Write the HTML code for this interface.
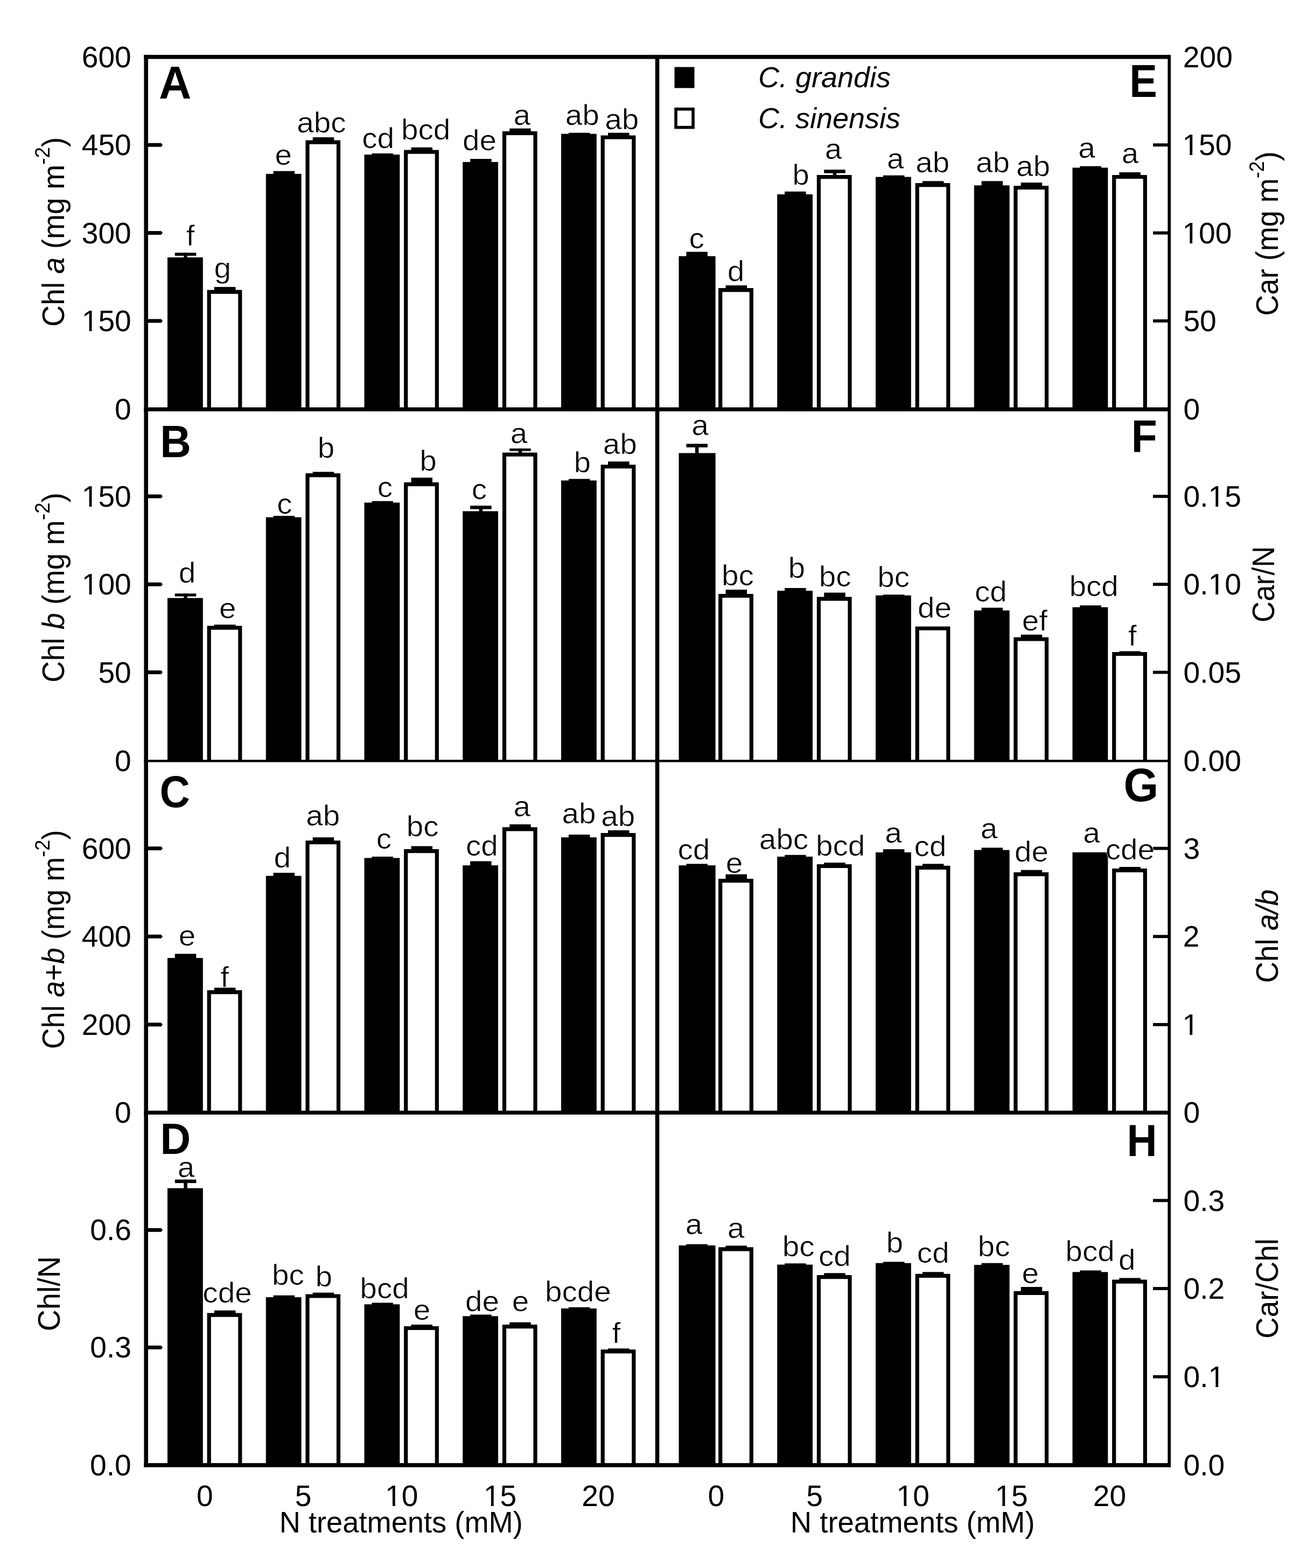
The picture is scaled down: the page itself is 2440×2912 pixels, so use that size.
<!DOCTYPE html>
<html lang="en"><head><meta charset="utf-8"><title>Pigments under N treatments</title>
<style>html,body{margin:0;padding:0;background:#fff}body{width:2440px;height:2912px;overflow:hidden}svg{display:block}text{font-family:'Liberation Sans', Arial, Helvetica, sans-serif;fill:#000}.b{font-weight:bold}.i{font-style:italic}.s text{stroke:#fff;stroke-width:0.6px;stroke-linejoin:round}</style></head><body>
<svg width="2440" height="2912" viewBox="0 0 2440 2912" role="img" aria-label="Leaf pigment concentrations and ratios under five N treatments">
<rect x="0" y="0" width="2440" height="2912" fill="#fff"/>
<g id="bars-A">
<rect x="341.3" y="469.4" width="6.5" height="9.6"/>
<rect x="324.8" y="469.4" width="39.5" height="5.6"/>
<rect x="311" y="478" width="65.8" height="282.2"/>
<rect x="397.9" y="532.9" width="39.5" height="6.7"/>
<path d="M388.2 760.2V542.2H445.8V760.2" fill="#fff" stroke="#000" stroke-width="7.2"/>
<rect x="507.6" y="317.7" width="39.5" height="6.2"/>
<rect x="493.8" y="322.9" width="65.8" height="437.4"/>
<rect x="580.7" y="254.9" width="39.5" height="6.7"/>
<path d="M571 760.2V264.2H628.5V760.2" fill="#fff" stroke="#000" stroke-width="7.2"/>
<rect x="690.4" y="284.9" width="39.5" height="3.2"/>
<rect x="676.5" y="287.1" width="65.8" height="473.1"/>
<rect x="763.5" y="273.7" width="39.5" height="5.9"/>
<path d="M753.7 760.2V282.2H811.3V760.2" fill="#fff" stroke="#000" stroke-width="7.2"/>
<rect x="873.1" y="295.1" width="39.5" height="6.8"/>
<rect x="859.2" y="300.9" width="65.8" height="459.4"/>
<rect x="946.2" y="238.6" width="39.5" height="6.1"/>
<path d="M936.5 760.2V247.3H994V760.2" fill="#fff" stroke="#000" stroke-width="7.2"/>
<rect x="1055.9" y="246.6" width="39.5" height="3"/>
<rect x="1042" y="248.6" width="65.8" height="511.6"/>
<rect x="1129" y="246.6" width="39.5" height="5.8"/>
<path d="M1119.2 760.2V255H1176.8V760.2" fill="#fff" stroke="#000" stroke-width="7.2"/>
</g>
<g id="bars-B">
<rect x="341.3" y="1102.3" width="6.5" height="9.3"/>
<rect x="324.8" y="1102.3" width="39.5" height="5.3"/>
<rect x="311" y="1110.6" width="65.8" height="302.7"/>
<rect x="397.9" y="1160" width="39.5" height="3.3"/>
<path d="M388.2 1413.2V1165.9H445.8V1413.2" fill="#fff" stroke="#000" stroke-width="7.2"/>
<rect x="507.6" y="958" width="39.5" height="3.6"/>
<rect x="493.8" y="960.6" width="65.8" height="452.6"/>
<rect x="580.7" y="876.3" width="39.5" height="3.8"/>
<path d="M571 1413.2V882.7H628.5V1413.2" fill="#fff" stroke="#000" stroke-width="7.2"/>
<rect x="690.4" y="930.6" width="39.5" height="3.8"/>
<rect x="676.5" y="933.4" width="65.8" height="479.9"/>
<rect x="763.5" y="887.1" width="39.5" height="9.6"/>
<path d="M753.7 1413.2V899.3H811.3V1413.2" fill="#fff" stroke="#000" stroke-width="7.2"/>
<rect x="889.6" y="939.1" width="6.5" height="11.3"/>
<rect x="873.1" y="939.1" width="39.5" height="6.5"/>
<rect x="859.2" y="949.4" width="65.8" height="463.9"/>
<rect x="962.7" y="832.9" width="6.5" height="8.7"/>
<rect x="946.2" y="832.9" width="39.5" height="4.7"/>
<path d="M936.5 1413.2V844.2H994V1413.2" fill="#fff" stroke="#000" stroke-width="7.2"/>
<rect x="1055.9" y="889.4" width="39.5" height="3.9"/>
<rect x="1042" y="892.3" width="65.8" height="521"/>
<rect x="1129" y="857.1" width="39.5" height="6.8"/>
<path d="M1119.2 1413.2V866.5H1176.8V1413.2" fill="#fff" stroke="#000" stroke-width="7.2"/>
</g>
<g id="bars-C">
<rect x="324.8" y="1771.4" width="39.5" height="8.7"/>
<rect x="311" y="1779.1" width="65.8" height="287.2"/>
<rect x="397.9" y="1834.3" width="39.5" height="5.8"/>
<path d="M388.2 2066.2V1842.7H445.8V2066.2" fill="#fff" stroke="#000" stroke-width="7.2"/>
<rect x="507.6" y="1620.9" width="39.5" height="6.7"/>
<rect x="493.8" y="1626.6" width="65.8" height="439.7"/>
<rect x="580.7" y="1555.1" width="39.5" height="6.8"/>
<path d="M571 2066.2V1564.5H628.5V2066.2" fill="#fff" stroke="#000" stroke-width="7.2"/>
<rect x="690.4" y="1590.9" width="39.5" height="3.5"/>
<rect x="676.5" y="1593.4" width="65.8" height="472.8"/>
<rect x="763.5" y="1571.4" width="39.5" height="6.7"/>
<path d="M753.7 2066.2V1580.7H811.3V2066.2" fill="#fff" stroke="#000" stroke-width="7.2"/>
<rect x="873.1" y="1599.4" width="39.5" height="8.7"/>
<rect x="859.2" y="1607.1" width="65.8" height="459.2"/>
<rect x="946.2" y="1530.9" width="39.5" height="6.4"/>
<path d="M936.5 2066.2V1539.9H994V2066.2" fill="#fff" stroke="#000" stroke-width="7.2"/>
<rect x="1055.9" y="1550" width="39.5" height="6.1"/>
<rect x="1042" y="1555.1" width="65.8" height="511.2"/>
<rect x="1129" y="1542" width="39.5" height="6.1"/>
<path d="M1119.2 2066.2V1550.7H1176.8V2066.2" fill="#fff" stroke="#000" stroke-width="7.2"/>
</g>
<g id="bars-D">
<rect x="341.3" y="2190.6" width="6.5" height="17"/>
<rect x="324.8" y="2190.6" width="39.5" height="6.5"/>
<rect x="311" y="2206.6" width="65.8" height="514.4"/>
<rect x="397.9" y="2433.7" width="39.5" height="5.9"/>
<path d="M388.2 2721V2442.2H445.8V2721" fill="#fff" stroke="#000" stroke-width="7.2"/>
<rect x="507.6" y="2405.7" width="39.5" height="4.4"/>
<rect x="493.8" y="2409.1" width="65.8" height="311.9"/>
<rect x="580.7" y="2400.6" width="39.5" height="3.8"/>
<path d="M571 2721V2407H628.5V2721" fill="#fff" stroke="#000" stroke-width="7.2"/>
<rect x="690.4" y="2419.4" width="39.5" height="3.9"/>
<rect x="676.5" y="2422.3" width="65.8" height="298.7"/>
<rect x="763.5" y="2460" width="39.5" height="3.9"/>
<path d="M753.7 2721V2466.5H811.3V2721" fill="#fff" stroke="#000" stroke-width="7.2"/>
<rect x="873.1" y="2441.4" width="39.5" height="3.9"/>
<rect x="859.2" y="2444.3" width="65.8" height="276.7"/>
<rect x="946.2" y="2455.7" width="39.5" height="5.3"/>
<path d="M936.5 2721V2463.6H994V2721" fill="#fff" stroke="#000" stroke-width="7.2"/>
<rect x="1055.9" y="2427.7" width="39.5" height="3.3"/>
<rect x="1042" y="2430" width="65.8" height="291"/>
<rect x="1129" y="2504.3" width="39.5" height="3"/>
<path d="M1119.2 2721V2509.9H1176.8V2721" fill="#fff" stroke="#000" stroke-width="7.2"/>
</g>
<g id="bars-E">
<rect x="1274.4" y="467.7" width="39.5" height="9"/>
<rect x="1260.5" y="475.7" width="68.1" height="284.6"/>
<rect x="1347.5" y="530" width="39.5" height="6.1"/>
<path d="M1337.7 760.2V538.7H1395.3V760.2" fill="#fff" stroke="#000" stroke-width="7.2"/>
<rect x="1457.1" y="355.7" width="39.5" height="6.2"/>
<rect x="1443.2" y="360.9" width="65.8" height="399.4"/>
<rect x="1546.7" y="315.1" width="6.5" height="11"/>
<rect x="1530.2" y="315.1" width="39.5" height="6.5"/>
<path d="M1520.4 760.2V328.7H1578V760.2" fill="#fff" stroke="#000" stroke-width="7.2"/>
<rect x="1639.9" y="325.7" width="39.5" height="3.9"/>
<rect x="1626" y="328.6" width="65.8" height="431.6"/>
<rect x="1713" y="336.3" width="39.5" height="4.7"/>
<path d="M1703.2 760.2V343.6H1760.8V760.2" fill="#fff" stroke="#000" stroke-width="7.2"/>
<rect x="1822.6" y="336.3" width="39.5" height="9"/>
<rect x="1808.8" y="344.3" width="65.8" height="415.9"/>
<rect x="1895.7" y="339.1" width="39.5" height="6.8"/>
<path d="M1885.9 760.2V348.5H1943.5V760.2" fill="#fff" stroke="#000" stroke-width="7.2"/>
<rect x="2005.4" y="308.6" width="39.5" height="3.8"/>
<rect x="1991.5" y="311.4" width="65.8" height="448.9"/>
<rect x="2078.4" y="320" width="39.5" height="5.9"/>
<path d="M2068.7 760.2V328.5H2126.3V760.2" fill="#fff" stroke="#000" stroke-width="7.2"/>
</g>
<g id="bars-F">
<rect x="1290.9" y="824.3" width="6.5" height="18.1"/>
<rect x="1274.4" y="824.3" width="39.5" height="6.5"/>
<rect x="1260.5" y="841.4" width="68.1" height="571.9"/>
<rect x="1347.5" y="1095.1" width="39.5" height="8.8"/>
<path d="M1337.7 1413.2V1106.5H1395.3V1413.2" fill="#fff" stroke="#000" stroke-width="7.2"/>
<rect x="1457.1" y="1092" width="39.5" height="6.1"/>
<rect x="1443.2" y="1097.1" width="65.8" height="316.2"/>
<rect x="1530.2" y="1100.6" width="39.5" height="9"/>
<path d="M1520.4 1413.2V1112.2H1578V1413.2" fill="#fff" stroke="#000" stroke-width="7.2"/>
<rect x="1639.9" y="1104.3" width="39.5" height="2.4"/>
<rect x="1626" y="1105.7" width="65.8" height="307.5"/>
<path d="M1703.2 1413.2V1167H1760.8V1413.2" fill="#fff" stroke="#000" stroke-width="7.2"/>
<rect x="1822.6" y="1128.6" width="39.5" height="6.1"/>
<rect x="1808.8" y="1133.7" width="65.8" height="279.5"/>
<rect x="1895.7" y="1178.6" width="39.5" height="5.8"/>
<path d="M1885.9 1413.2V1187H1943.5V1413.2" fill="#fff" stroke="#000" stroke-width="7.2"/>
<rect x="2005.4" y="1124.3" width="39.5" height="4.4"/>
<rect x="1991.5" y="1127.7" width="65.8" height="285.5"/>
<rect x="2078.4" y="1209.4" width="39.5" height="2.5"/>
<path d="M2068.7 1413.2V1214.5H2126.3V1413.2" fill="#fff" stroke="#000" stroke-width="7.2"/>
</g>
<g id="bars-G">
<rect x="1274.4" y="1604.3" width="39.5" height="3.8"/>
<rect x="1260.5" y="1607.1" width="68.1" height="459.2"/>
<rect x="1347.5" y="1623.7" width="39.5" height="9.3"/>
<path d="M1337.7 2066.2V1635.6H1395.3V2066.2" fill="#fff" stroke="#000" stroke-width="7.2"/>
<rect x="1457.1" y="1587.7" width="39.5" height="4.2"/>
<rect x="1443.2" y="1590.9" width="65.8" height="475.3"/>
<rect x="1530.2" y="1602" width="39.5" height="3.9"/>
<path d="M1520.4 2066.2V1608.5H1578V2066.2" fill="#fff" stroke="#000" stroke-width="7.2"/>
<rect x="1639.9" y="1577.1" width="39.5" height="6.8"/>
<rect x="1626" y="1582.9" width="65.8" height="483.3"/>
<rect x="1713" y="1604.3" width="39.5" height="4.4"/>
<path d="M1703.2 2066.2V1611.3H1760.8V2066.2" fill="#fff" stroke="#000" stroke-width="7.2"/>
<rect x="1822.6" y="1574.3" width="39.5" height="5.3"/>
<rect x="1808.8" y="1578.6" width="65.8" height="487.7"/>
<rect x="1895.7" y="1615.7" width="39.5" height="5.3"/>
<path d="M1885.9 2066.2V1623.6H1943.5V2066.2" fill="#fff" stroke="#000" stroke-width="7.2"/>
<rect x="1991.5" y="1582.9" width="65.8" height="483.3"/>
<rect x="2078.4" y="1610" width="39.5" height="3.9"/>
<path d="M2068.7 2066.2V1616.5H2126.3V2066.2" fill="#fff" stroke="#000" stroke-width="7.2"/>
</g>
<g id="bars-H">
<rect x="1274.4" y="2310.6" width="39.5" height="3.3"/>
<rect x="1260.5" y="2312.9" width="68.1" height="408.1"/>
<rect x="1347.5" y="2313.4" width="39.5" height="3.9"/>
<path d="M1337.7 2721V2319.9H1395.3V2721" fill="#fff" stroke="#000" stroke-width="7.2"/>
<rect x="1457.1" y="2346.3" width="39.5" height="3.3"/>
<rect x="1443.2" y="2348.6" width="65.8" height="372.4"/>
<rect x="1530.2" y="2364.3" width="39.5" height="4.7"/>
<path d="M1520.4 2721V2371.6H1578V2721" fill="#fff" stroke="#000" stroke-width="7.2"/>
<rect x="1639.9" y="2343.4" width="39.5" height="3.3"/>
<rect x="1626" y="2345.7" width="65.8" height="375.3"/>
<rect x="1713" y="2362.3" width="39.5" height="4.4"/>
<path d="M1703.2 2721V2369.3H1760.8V2721" fill="#fff" stroke="#000" stroke-width="7.2"/>
<rect x="1822.6" y="2345.7" width="39.5" height="4.4"/>
<rect x="1808.8" y="2349.1" width="65.8" height="371.9"/>
<rect x="1895.7" y="2390" width="39.5" height="8.7"/>
<path d="M1885.9 2721V2401.3H1943.5V2721" fill="#fff" stroke="#000" stroke-width="7.2"/>
<rect x="2005.4" y="2359.4" width="39.5" height="3.9"/>
<rect x="1991.5" y="2362.3" width="65.8" height="358.7"/>
<rect x="2078.4" y="2373.4" width="39.5" height="4.2"/>
<path d="M2068.7 2721V2380.2H2126.3V2721" fill="#fff" stroke="#000" stroke-width="7.2"/>
</g>
<g id="frame">
<rect x="267.4" y="101.9" width="1906.6" height="7.6"/>
<rect x="267.4" y="756.5" width="1906.6" height="7.4"/>
<rect x="267.4" y="1411" width="1906.6" height="4.4"/>
<rect x="267.4" y="2062.7" width="1906.6" height="7.2"/>
<rect x="267.4" y="2717.2" width="1906.6" height="7.6"/>
<rect x="267.4" y="101.9" width="7.6" height="2622.9"/>
<rect x="1216.7" y="101.9" width="7.6" height="2622.9"/>
<rect x="2168.4" y="101.9" width="5.6" height="2622.9"/>
</g>
<g id="ticks">
<rect x="271.2" y="592.5" width="28.4" height="7"/>
<path d="M299.4 592.5 l2.6 3.5 l-2.6 3.5z"/>
<rect x="271.2" y="429.1" width="28.4" height="7"/>
<path d="M299.4 429.1 l2.6 3.5 l-2.6 3.5z"/>
<rect x="271.2" y="265.7" width="28.4" height="7"/>
<path d="M299.4 265.7 l2.6 3.5 l-2.6 3.5z"/>
<rect x="271.2" y="1245.1" width="28.4" height="7"/>
<path d="M299.4 1245.1 l2.6 3.5 l-2.6 3.5z"/>
<rect x="271.2" y="1081.7" width="28.4" height="7"/>
<path d="M299.4 1081.7 l2.6 3.5 l-2.6 3.5z"/>
<rect x="271.2" y="918.3" width="28.4" height="7"/>
<path d="M299.4 918.3 l2.6 3.5 l-2.6 3.5z"/>
<rect x="271.2" y="1899.3" width="28.4" height="7"/>
<path d="M299.4 1899.3 l2.6 3.5 l-2.6 3.5z"/>
<rect x="271.2" y="1735.7" width="28.4" height="7"/>
<path d="M299.4 1735.7 l2.6 3.5 l-2.6 3.5z"/>
<rect x="271.2" y="1572.1" width="28.4" height="7"/>
<path d="M299.4 1572.1 l2.6 3.5 l-2.6 3.5z"/>
<rect x="271.2" y="2498.9" width="28.4" height="7"/>
<path d="M299.4 2498.9 l2.6 3.5 l-2.6 3.5z"/>
<rect x="271.2" y="2280.8" width="28.4" height="7"/>
<path d="M299.4 2280.8 l2.6 3.5 l-2.6 3.5z"/>
<rect x="2141" y="593.1" width="30.2" height="5.8"/>
<rect x="2141" y="429.7" width="30.2" height="5.8"/>
<rect x="2141" y="266.3" width="30.2" height="5.8"/>
<rect x="2141" y="1245.7" width="30.2" height="5.8"/>
<rect x="2141" y="1082.3" width="30.2" height="5.8"/>
<rect x="2141" y="918.9" width="30.2" height="5.8"/>
<rect x="2141" y="1899.9" width="30.2" height="5.8"/>
<rect x="2141" y="1736.3" width="30.2" height="5.8"/>
<rect x="2141" y="1572.7" width="30.2" height="5.8"/>
<rect x="2141" y="2553.9" width="30.2" height="5.8"/>
<rect x="2141" y="2390.1" width="30.2" height="5.8"/>
<rect x="2141" y="2226.6" width="30.2" height="5.8"/>
</g>
<g font-size="56">
<text transform="translate(213.08 779.30) scale(0.985 1)">0</text>
<text transform="translate(151.72 615.05) scale(0.985 1)">150</text>
<rect x="154.42" y="608.62" width="11.18" height="7.52" fill="#fff"/><rect x="170.47" y="608.62" width="10.75" height="7.52" fill="#fff"/>
<text transform="translate(151.72 451.65) scale(0.985 1)">300</text>
<text transform="translate(151.72 288.25) scale(0.985 1)">450</text>
<text transform="translate(151.72 124.75) scale(0.985 1)">600</text>
<text transform="translate(213.08 1432.30) scale(0.985 1)">0</text>
<text transform="translate(182.40 1267.65) scale(0.985 1)">50</text>
<text transform="translate(151.72 1104.25) scale(0.985 1)">100</text>
<rect x="154.42" y="1097.82" width="11.18" height="7.52" fill="#fff"/><rect x="170.47" y="1097.82" width="10.75" height="7.52" fill="#fff"/>
<text transform="translate(151.72 940.85) scale(0.985 1)">150</text>
<rect x="154.42" y="934.42" width="11.18" height="7.52" fill="#fff"/><rect x="170.47" y="934.42" width="10.75" height="7.52" fill="#fff"/>
<text transform="translate(213.08 2085.30) scale(0.985 1)">0</text>
<text transform="translate(151.72 1921.85) scale(0.985 1)">200</text>
<text transform="translate(151.72 1758.25) scale(0.985 1)">400</text>
<text transform="translate(151.72 1594.65) scale(0.985 1)">600</text>
<text transform="translate(167.07 2740.05) scale(0.985 1)">0.0</text>
<text transform="translate(167.34 2521.45) scale(0.985 1)">0.3</text>
<text transform="translate(167.34 2303.35) scale(0.985 1)">0.6</text>
<text transform="translate(2197.45 779.30) scale(0.985 1)">0</text>
<text transform="translate(2197.39 615.05) scale(0.985 1)">50</text>
<text transform="translate(2195.40 451.65) scale(0.985 1)">100</text>
<rect x="2198.09" y="445.22" width="11.18" height="7.52" fill="#fff"/><rect x="2214.14" y="445.22" width="10.75" height="7.52" fill="#fff"/>
<text transform="translate(2195.40 288.25) scale(0.985 1)">150</text>
<rect x="2198.09" y="281.82" width="11.18" height="7.52" fill="#fff"/><rect x="2214.14" y="281.82" width="10.75" height="7.52" fill="#fff"/>
<text transform="translate(2196.83 124.75) scale(0.985 1)">200</text>
<text transform="translate(2197.45 1432.30) scale(0.985 1)">0.00</text>
<text transform="translate(2197.45 1267.65) scale(0.985 1)">0.05</text>
<text transform="translate(2197.45 1104.25) scale(0.985 1)">0.10</text>
<rect x="2246.14" y="1097.82" width="11.18" height="7.52" fill="#fff"/><rect x="2262.19" y="1097.82" width="10.75" height="7.52" fill="#fff"/>
<text transform="translate(2197.45 940.85) scale(0.985 1)">0.15</text>
<rect x="2246.14" y="934.42" width="11.18" height="7.52" fill="#fff"/><rect x="2262.19" y="934.42" width="10.75" height="7.52" fill="#fff"/>
<text transform="translate(2197.45 2085.30) scale(0.985 1)">0</text>
<text transform="translate(2195.40 1921.85) scale(0.985 1)">1</text>
<rect x="2198.09" y="1915.42" width="11.18" height="7.52" fill="#fff"/><rect x="2214.14" y="1915.42" width="10.75" height="7.52" fill="#fff"/>
<text transform="translate(2196.83 1758.25) scale(0.985 1)">2</text>
<text transform="translate(2197.50 1594.65) scale(0.985 1)">3</text>
<text transform="translate(2197.45 2740.05) scale(0.985 1)">0.0</text>
<text transform="translate(2197.45 2575.85) scale(0.985 1)">0.1</text>
<rect x="2246.14" y="2569.42" width="11.18" height="7.52" fill="#fff"/><rect x="2262.19" y="2569.42" width="10.75" height="7.52" fill="#fff"/>
<text transform="translate(2197.45 2412.05) scale(0.985 1)">0.2</text>
<text transform="translate(2197.45 2248.55) scale(0.985 1)">0.3</text>
<text transform="translate(364.96 2797.30) scale(0.985 1)">0</text>
<text transform="translate(547.77 2797.30) scale(0.985 1)">5</text>
<text transform="translate(715.10 2797.30) scale(0.985 1)">10</text>
<rect x="717.79" y="2790.87" width="11.18" height="7.52" fill="#fff"/><rect x="733.84" y="2790.87" width="10.75" height="7.52" fill="#fff"/>
<text transform="translate(897.93 2797.30) scale(0.985 1)">15</text>
<rect x="900.62" y="2790.87" width="11.18" height="7.52" fill="#fff"/><rect x="916.68" y="2790.87" width="10.75" height="7.52" fill="#fff"/>
<text transform="translate(1080.31 2797.30) scale(0.985 1)">20</text>
<text transform="translate(1314.46 2797.30) scale(0.985 1)">0</text>
<text transform="translate(1497.27 2797.30) scale(0.985 1)">5</text>
<text transform="translate(1664.60 2797.30) scale(0.985 1)">10</text>
<rect x="1667.29" y="2790.87" width="11.18" height="7.52" fill="#fff"/><rect x="1683.34" y="2790.87" width="10.75" height="7.52" fill="#fff"/>
<text transform="translate(1847.43 2797.30) scale(0.985 1)">15</text>
<rect x="1850.12" y="2790.87" width="11.18" height="7.52" fill="#fff"/><rect x="1866.18" y="2790.87" width="10.75" height="7.52" fill="#fff"/>
<text transform="translate(2029.81 2797.30) scale(0.985 1)">20</text>
</g>
<g id="ytitles">
<text font-size="57" transform="translate(118.60 606.71) rotate(-90) scale(0.9699 1)">Chl <tspan class="i">a</tspan> (mg m<tspan font-size="38" dy="-26.5">-2</tspan><tspan dy="26.5">)</tspan></text>
<text font-size="57" transform="translate(118.60 1267.51) rotate(-90) scale(0.9713 1)">Chl <tspan class="i">b</tspan> (mg m<tspan font-size="38" dy="-26.5">-2</tspan><tspan dy="26.5">)</tspan></text>
<text font-size="57" transform="translate(118.60 1948.25) rotate(-90) scale(0.9502 1)">Chl <tspan class="i">a</tspan>+<tspan class="i">b</tspan> (mg m<tspan font-size="38" dy="-26.5">-2</tspan><tspan dy="26.5">)</tspan></text>
<text font-size="57" transform="translate(111.40 2472.13) rotate(-90) scale(0.9764 1)">Chl/N</text>
<text font-size="57" transform="translate(2373.00 586.44) rotate(-90) scale(0.9483 1)">Car (mg m<tspan font-size="38" dy="-26.5">-2</tspan><tspan dy="26.5">)</tspan></text>
<text font-size="57" transform="translate(2366.40 1156.06) rotate(-90) scale(0.9533 1)">Car/N</text>
<text font-size="57" transform="translate(2373.00 1825.59) rotate(-90) scale(0.9633 1)">Chl <tspan class="i">a/b</tspan></text>
<text font-size="57" transform="translate(2373.00 2485.99) rotate(-90) scale(0.9630 1)">Car/Chl</text>
</g>
<g id="xtitles" font-size="55.5">
<text transform="translate(518.65 2846.20) scale(0.9779 1)">N treatments (mM)</text>
<text transform="translate(1467.83 2846.20) scale(0.9812 1)">N treatments (mM)</text>
</g>
<rect x="1252.5" y="124.5" width="37" height="39"/>
<rect x="1255" y="202.6" width="32" height="34" fill="#fff" stroke="#000" stroke-width="5.6"/>
<g font-size="54" class="i">
<text x="1408" y="161.5">C. grandis</text>
<text x="1408" y="237.5">C. sinensis</text>
</g>
<g class="b">
<text font-size="84.6" transform="translate(294.92 182.50) scale(0.988 1)">A</text>
<text font-size="83.1" transform="translate(297.36 849.00) scale(0.960 1)">B</text>
<text font-size="84.0" transform="translate(296.60 1499.38) scale(0.928 1)">C</text>
<text font-size="82.0" transform="translate(297.45 2143.40) scale(0.957 1)">D</text>
<text font-size="86.0" transform="translate(2097.20 180.20) scale(0.900 1)">E</text>
<text font-size="86.0" transform="translate(2100.74 840.20) scale(0.914 1)">F</text>
<text font-size="86.9" transform="translate(2086.39 1487.65) scale(0.957 1)">G</text>
<text font-size="82.9" transform="translate(2092.61 2146.80) scale(0.936 1)">H</text>
</g>
<g class="s" font-size="53.5">
<text transform="translate(345.78 455.7) scale(1.06 1)">f</text>
<text transform="translate(397.56 516.3) scale(1.06 1)">g</text>
<text transform="translate(510.46 305.7) scale(1.06 1)">e</text>
<text transform="translate(551.17 246.3) scale(1.06 1)">abc</text>
<text transform="translate(672.21 275.1) scale(1.06 1)">cd</text>
<text transform="translate(744.97 259.1) scale(1.06 1)">bcd</text>
<text transform="translate(858.91 279.1) scale(1.06 1)">de</text>
<text transform="translate(953.56 232) scale(1.06 1)">a</text>
<text transform="translate(1049.71 232) scale(1.06 1)">ab</text>
<text transform="translate(1123.21 240) scale(1.06 1)">ab</text>
<text transform="translate(331.86 1082) scale(1.06 1)">d</text>
<text transform="translate(407.06 1147.7) scale(1.06 1)">e</text>
<text transform="translate(514.36 953.7) scale(1.06 1)">c</text>
<text transform="translate(589.86 850) scale(1.06 1)">b</text>
<text transform="translate(700.86 922.9) scale(1.06 1)">c</text>
<text transform="translate(779.26 874.3) scale(1.06 1)">b</text>
<text transform="translate(875.76 927.1) scale(1.06 1)">c</text>
<text transform="translate(947.86 822.9) scale(1.06 1)">a</text>
<text transform="translate(1065.56 877.1) scale(1.06 1)">b</text>
<text transform="translate(1119.71 842.9) scale(1.06 1)">ab</text>
<text transform="translate(331.86 1755.7) scale(1.06 1)">e</text>
<text transform="translate(409.18 1832.9) scale(1.06 1)">f</text>
<text transform="translate(508.46 1610.9) scale(1.06 1)">d</text>
<text transform="translate(568.31 1532.9) scale(1.06 1)">ab</text>
<text transform="translate(698.66 1575.7) scale(1.06 1)">c</text>
<text transform="translate(754.81 1553.4) scale(1.06 1)">bc</text>
<text transform="translate(865.01 1589.1) scale(1.06 1)">cd</text>
<text transform="translate(953.56 1515.7) scale(1.06 1)">a</text>
<text transform="translate(1043.41 1529.4) scale(1.06 1)">ab</text>
<text transform="translate(1116.31 1534.3) scale(1.06 1)">ab</text>
<text transform="translate(329.86 2186.3) scale(1.06 1)">a</text>
<text transform="translate(376.37 2418.6) scale(1.06 1)">cde</text>
<text transform="translate(505.01 2385.7) scale(1.06 1)">bc</text>
<text transform="translate(585.56 2388.6) scale(1.06 1)">b</text>
<text transform="translate(668.37 2410.6) scale(1.06 1)">bcd</text>
<text transform="translate(767.86 2451.4) scale(1.06 1)">e</text>
<text transform="translate(864.01 2435.1) scale(1.06 1)">de</text>
<text transform="translate(950.76 2435.1) scale(1.06 1)">e</text>
<text transform="translate(1011.92 2417.1) scale(1.06 1)">bcde</text>
<text transform="translate(1136.38 2494.3) scale(1.06 1)">f</text>
<text transform="translate(1279.46 460.6) scale(1.06 1)">c</text>
<text transform="translate(1350.76 521.5) scale(1.06 1)">d</text>
<text transform="translate(1471.26 342.9) scale(1.06 1)">b</text>
<text transform="translate(1531.86 294.9) scale(1.06 1)">a</text>
<text transform="translate(1647.06 312.9) scale(1.06 1)">a</text>
<text transform="translate(1700.31 320) scale(1.06 1)">ab</text>
<text transform="translate(1812.01 320) scale(1.06 1)">ab</text>
<text transform="translate(1886.91 327.1) scale(1.06 1)">ab</text>
<text transform="translate(2002.16 292.9) scale(1.06 1)">a</text>
<text transform="translate(2082.76 302.9) scale(1.06 1)">a</text>
<text transform="translate(1284.16 807.7) scale(1.06 1)">a</text>
<text transform="translate(1339.91 1087.1) scale(1.06 1)">bc</text>
<text transform="translate(1463.56 1072.9) scale(1.06 1)">b</text>
<text transform="translate(1520.81 1089.1) scale(1.06 1)">bc</text>
<text transform="translate(1629.31 1090) scale(1.06 1)">bc</text>
<text transform="translate(1704.01 1146.5) scale(1.06 1)">de</text>
<text transform="translate(1809.91 1117.1) scale(1.06 1)">cd</text>
<text transform="translate(1897.64 1171.4) scale(1.06 1)">ef</text>
<text transform="translate(1985.47 1106.7) scale(1.06 1)">bcd</text>
<text transform="translate(2094.98 1198.6) scale(1.06 1)">f</text>
<text transform="translate(1258.51 1596.3) scale(1.06 1)">cd</text>
<text transform="translate(1347.86 1620.9) scale(1.06 1)">e</text>
<text transform="translate(1409.77 1577.1) scale(1.06 1)">abc</text>
<text transform="translate(1514.97 1589.1) scale(1.06 1)">bcd</text>
<text transform="translate(1643.26 1564.9) scale(1.06 1)">a</text>
<text transform="translate(1697.61 1590) scale(1.06 1)">cd</text>
<text transform="translate(1820.76 1556.6) scale(1.06 1)">a</text>
<text transform="translate(1884.01 1600) scale(1.06 1)">de</text>
<text transform="translate(2011.26 1564.9) scale(1.06 1)">a</text>
<text transform="translate(2052.67 1596.3) scale(1.06 1)">cde</text>
<text transform="translate(1272.76 2292) scale(1.06 1)">a</text>
<text transform="translate(1350.76 2298.6) scale(1.06 1)">a</text>
<text transform="translate(1452.81 2332.9) scale(1.06 1)">bc</text>
<text transform="translate(1519.91 2351.4) scale(1.06 1)">cd</text>
<text transform="translate(1645.56 2325.7) scale(1.06 1)">b</text>
<text transform="translate(1702.81 2344.9) scale(1.06 1)">cd</text>
<text transform="translate(1815.61 2332.9) scale(1.06 1)">bc</text>
<text transform="translate(1897.56 2382.9) scale(1.06 1)">e</text>
<text transform="translate(1978.37 2342) scale(1.06 1)">bcd</text>
<text transform="translate(2077.06 2358) scale(1.06 1)">d</text>
</g>
</svg></body></html>
